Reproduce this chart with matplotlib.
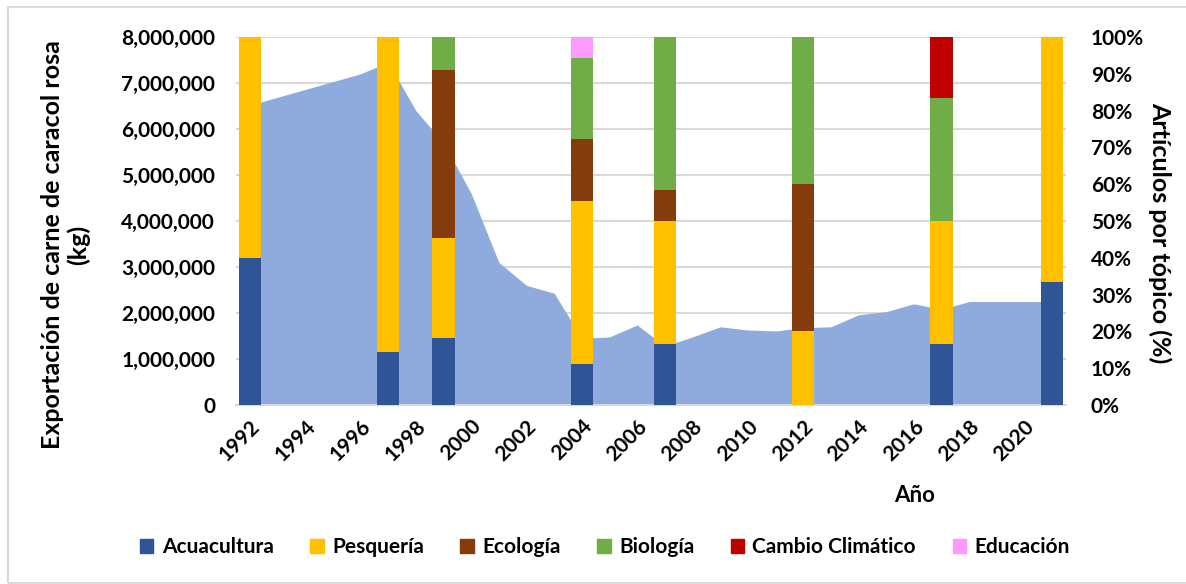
import numpy as np
import matplotlib
matplotlib.use("Agg")
import matplotlib.pyplot as plt
import matplotlib.patches as patches
from matplotlib.ticker import FuncFormatter, MultipleLocator

plt.rcParams["font.family"] = ["Lato", "DejaVu Sans"]
plt.rcParams["font.weight"] = "bold"

# export of queen conch meat (kg), one value per year
years = list(range(1992, 2022))
export_kg = [6.52e6, 6.69e6, 6.86e6, 7.03e6, 7.20e6, 7.45e6, 6.40e6, 5.70e6,
             4.60e6, 3.10e6, 2.60e6, 2.43e6, 1.45e6, 1.48e6, 1.74e6, 1.28e6,
             1.48e6, 1.70e6, 1.63e6, 1.61e6, 1.68e6, 1.70e6, 1.96e6, 2.03e6,
             2.20e6, 2.08e6, 2.25e6, 2.25e6, 2.25e6, 2.25e6]

# share of articles by topic (%) for years with publications
bar_years = [1992, 1997, 1999, 2004, 2007, 2012, 2017, 2021]
topics = ["Acuacultura", "Pesquería", "Ecología", "Biología",
          "Cambio Climático", "Educación"]
acuacultura = [40.0, 14.3, 18.2, 11.1, 16.7, 0.0, 16.7, 33.3]
pesqueria   = [60.0, 85.7, 27.3, 44.4, 33.3, 20.0, 33.3, 66.7]
ecologia    = [0.0, 0.0, 45.5, 16.7, 8.3, 40.0, 0.0, 0.0]
biologia    = [0.0, 0.0, 9.1, 22.2, 41.7, 40.0, 33.3, 0.0]
cambio      = [0.0, 0.0, 0.0, 0.0, 0.0, 0.0, 16.7, 0.0]
educacion   = [0.0, 0.0, 0.0, 5.6, 0.0, 0.0, 0.0, 0.0]
topic_colors = ["#2F5597", "#FFC000", "#843C0C", "#70AD47", "#C00000", "#FF99FF"]

fig = plt.figure(figsize=(11.86, 5.84), dpi=100)
fig.patches.append(patches.Rectangle((8 / 1186, 1 / 584), 1.2, 576 / 584,
                                     transform=fig.transFigure, fill=False,
                                     ec="#D9D9D9", lw=1.5))

ax = fig.add_axes([236 / 1186, 1 - 405 / 584, 830 / 1186, 368 / 584])
ax2 = ax.twinx()

xpos = np.arange(len(years))
ax.fill_between(xpos, export_kg, 0, color="#8FAADC", lw=0, zorder=2)
ax.set_xlim(-0.5, len(years) - 0.5)
ax.set_ylim(0, 8e6)
ax.yaxis.set_major_locator(MultipleLocator(1e6))
ax.yaxis.set_major_formatter(FuncFormatter(lambda v, p: f"{v:,.0f}"))
ax.set_axisbelow(True)
ax.grid(axis="y", color="#D9D9D9", lw=1.5)

ax.set_xticks(xpos[::2])
ax.set_xticklabels([str(y) for y in years[::2]], rotation=45, ha="right",
                   va="top", rotation_mode="anchor", fontsize=15)
ax.tick_params(axis="both", length=0, labelsize=15)
ax.tick_params(axis="x", pad=8)
ax.tick_params(axis="y", pad=15)

for s in ["top", "right", "left"]:
    ax.spines[s].set_visible(False)
    ax2.spines[s].set_visible(False)
ax.spines["bottom"].set_color("#D9D9D9")
ax.spines["bottom"].set_linewidth(1.5)
ax2.spines["bottom"].set_visible(False)

bpos = [years.index(y) for y in bar_years]
bottom = np.zeros(len(bar_years))
for name, vals, col in zip(topics, [acuacultura, pesqueria, ecologia, biologia,
                                    cambio, educacion], topic_colors):
    ax2.bar(bpos, vals, width=0.8, bottom=bottom, color=col, label=name,
            zorder=3)
    bottom += np.array(vals)

ax2.set_ylim(0, 100)
ax2.yaxis.set_major_locator(MultipleLocator(10))
ax2.yaxis.set_major_formatter(FuncFormatter(lambda v, p: f"{v:.0f}%"))
ax2.tick_params(axis="y", length=0, labelsize=15, pad=18)

ax.set_ylabel("Exportación de carne de caracol rosa\n(kg)", fontsize=18,
              fontweight="bold", linespacing=1.1)
ax.yaxis.set_label_coords((90 - 236) / 830, (405 - 245) / 368)
ax2.set_ylabel("Artículos por tópico (%)", fontsize=18, fontweight="bold",
               rotation=270)
ax2.yaxis.label.set_va("bottom")
ax2.yaxis.set_label_coords((1148 - 236) / 830, (405 - 233) / 368)
fig.text(915 / 1186, 1 - 495 / 584, "Año", ha="center", va="center",
         fontsize=16, fontweight="bold")

handles = [patches.Patch(color=c) for c in topic_colors]
fig.legend(handles, topics, loc="center", bbox_to_anchor=(0.51, 1 - 547 / 584),
           ncol=6, frameon=False, fontsize=15, handlelength=0.65,
           handleheight=0.65, handletextpad=0.4, columnspacing=1.75)

fig.savefig("out.png", dpi=100)
